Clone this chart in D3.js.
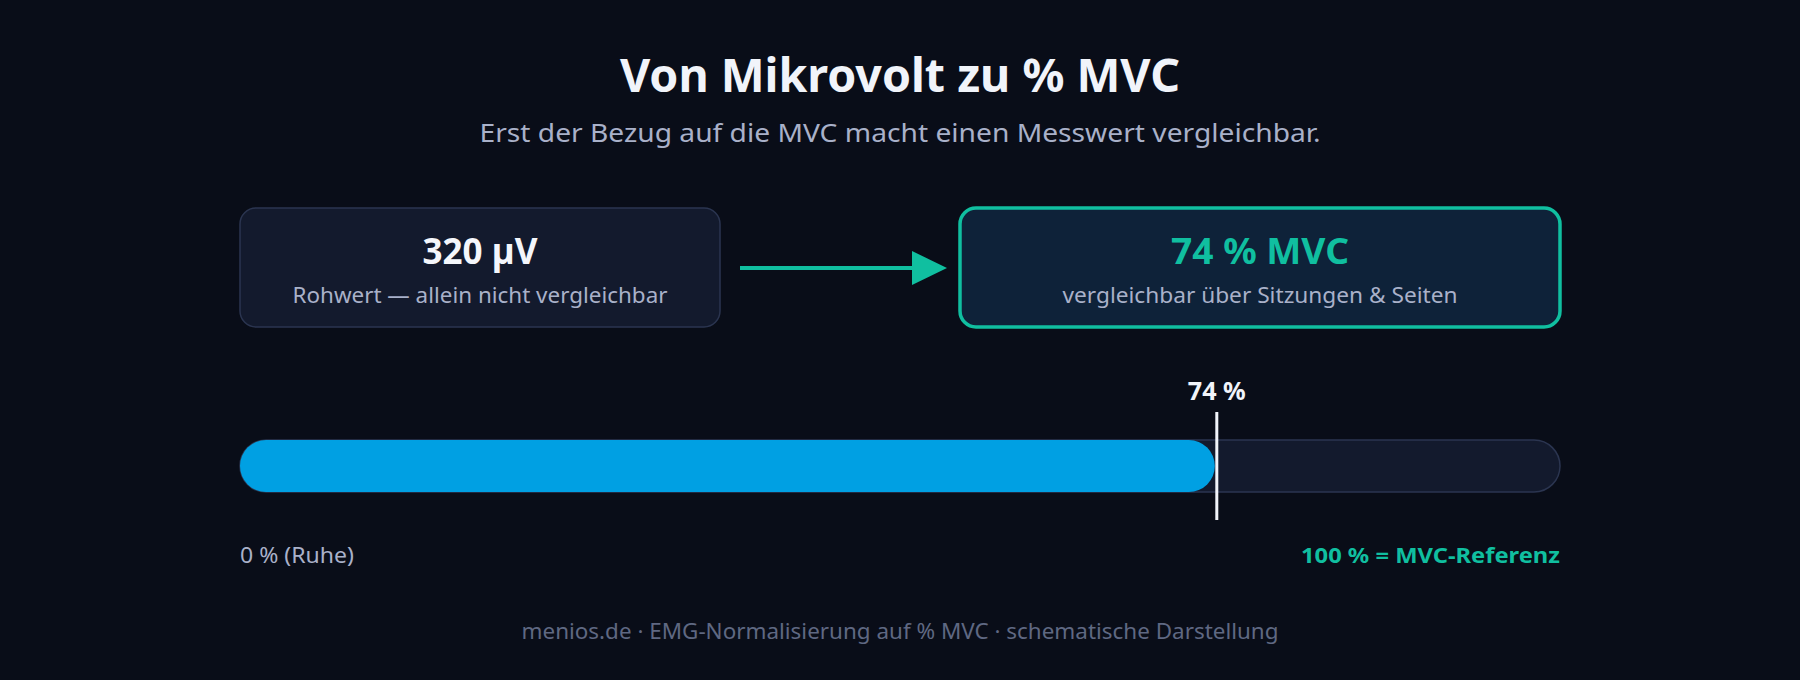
<!DOCTYPE html>
<html>
<head>
<meta charset="utf-8">
<script src="https://cdn.jsdelivr.net/npm/d3@7"></script>
<style>
  html, body { margin: 0; padding: 0; background: #090d18; }
  svg { display: block; font-family: "Segoe UI", "Noto Sans", sans-serif; }
</style>
</head>
<body>
<svg class="chart"></svg>
<script>
// values
var cardValues = ["320 µV", "74 % MVC"];
var cardNotes = ["Rohwert — allein nicht vergleichbar", "vergleichbar über Sitzungen & Seiten"];
var barDomain = [0, 100];
var barValues = [74];
var endLabels = ["0 % (Ruhe)", "100 % = MVC-Referenz"];

let w = 1800;
let h = 680;

var teal = "#10bfa0";
var blue = "#00a0e3";

var svg = d3.select(".chart")
            .attr("width", w)
            .attr("height", h);

svg.append("rect")
   .attr("width", w)
   .attr("height", h)
   .attr("fill", "#090d18");

// fit a label to the width it has in the picture
function fit(sel, len) {
  return sel.attr("textLength", len).attr("lengthAdjust", "spacingAndGlyphs");
}

fit(svg.append("text")
   .attr("x", w / 2)
   .attr("y", 92)
   .attr("text-anchor", "middle")
   .attr("font-size", "46px")
   .attr("font-weight", 700)
   .attr("fill", "#f1f4fa")
   .text("Von Mikrovolt zu % MVC"), 560);

fit(svg.append("text")
   .attr("x", w / 2)
   .attr("y", 142)
   .attr("text-anchor", "middle")
   .attr("font-size", "24.5px")
   .attr("fill", "#a9b1c9")
   .text("Erst der Bezug auf die MVC macht einen Messwert vergleichbar."), 841);

// two cards: raw value -> normalised value
var cards = [
  {x: 240, w: 480, fill: "#131a2d", stroke: "#2b3550", sw: 1.5, color: "#f4f6fb", vw: 115, nw: 375},
  {x: 960, w: 600, fill: "#0e2239", stroke: teal, sw: 3.5, color: teal, vw: 178, nw: 395}
];

var card = svg.selectAll("g.card")
   .data(cardValues)
   .enter().append("g")
   .attr("class", "card")
   .attr("transform", (d, i) => "translate(" + cards[i].x + ",208)");

card.append("rect")
    .attr("width", (d, i) => cards[i].w)
    .attr("height", 119)
    .attr("rx", 16)
    .attr("fill", (d, i) => cards[i].fill)
    .attr("stroke", (d, i) => cards[i].stroke)
    .attr("stroke-width", (d, i) => cards[i].sw);

card.append("text")
    .attr("x", (d, i) => cards[i].w / 2)
    .attr("y", 56)
    .attr("text-anchor", "middle")
    .attr("font-size", "35px")
    .attr("font-weight", 700)
    .attr("fill", (d, i) => cards[i].color)
    .attr("textLength", (d, i) => cards[i].vw)
    .attr("lengthAdjust", "spacingAndGlyphs")
    .text(d => d);

card.append("text")
    .attr("x", (d, i) => cards[i].w / 2)
    .attr("y", 95)
    .attr("text-anchor", "middle")
    .attr("font-size", "21.5px")
    .attr("fill", "#a9b1c9")
    .attr("textLength", (d, i) => cards[i].nw)
    .attr("lengthAdjust", "spacingAndGlyphs")
    .text((d, i) => cardNotes[i]);

// arrow
svg.append("line")
   .attr("x1", 740)
   .attr("x2", 914)
   .attr("y1", 268)
   .attr("y2", 268)
   .attr("stroke", teal)
   .attr("stroke-width", 4);

svg.append("path")
   .attr("d", "M912,251 L947,268 L912,285 Z")
   .attr("fill", teal);

// progress bar
var xS = d3.scaleLinear()
         .domain(barDomain)
         .range([240, 1560]);

var barY = 440, barH = 52;

svg.append("rect")
   .attr("x", xS(barDomain[0]))
   .attr("y", barY)
   .attr("width", xS(barDomain[1]) - xS(barDomain[0]))
   .attr("height", barH)
   .attr("rx", barH / 2)
   .attr("fill", "#131a2d")
   .attr("stroke", "#2b3550")
   .attr("stroke-width", 1.5);

svg.selectAll("rect.bar")
   .data(barValues)
   .enter().append("rect")
   .attr("class", "bar")
   .attr("x", xS(0))
   .attr("y", barY)
   .attr("width", d => xS(d) - xS(0) - 2)
   .attr("height", barH)
   .attr("rx", barH / 2)
   .attr("fill", blue);

svg.selectAll("line.marker")
   .data(barValues)
   .enter().append("line")
   .attr("class", "marker")
   .attr("x1", d => xS(d))
   .attr("x2", d => xS(d))
   .attr("y1", 412)
   .attr("y2", 520)
   .attr("stroke", "#f1f4fa")
   .attr("stroke-width", 3);

svg.selectAll("text.marker")
   .data(barValues)
   .enter().append("text")
   .attr("class", "marker")
   .attr("x", d => xS(d))
   .attr("y", 400)
   .attr("text-anchor", "middle")
   .attr("font-size", "25px")
   .attr("font-weight", 700)
   .attr("fill", "#f1f4fa")
   .attr("textLength", 58)
   .attr("lengthAdjust", "spacingAndGlyphs")
   .text(d => d + " %");

fit(svg.append("text")
   .attr("x", xS(barDomain[0]))
   .attr("y", 563)
   .attr("font-size", "21px")
   .attr("fill", "#a9b1c9")
   .text(endLabels[0]), 114);

fit(svg.append("text")
   .attr("x", xS(barDomain[1]))
   .attr("y", 563)
   .attr("text-anchor", "end")
   .attr("font-size", "21px")
   .attr("font-weight", 700)
   .attr("fill", teal)
   .text(endLabels[1]), 259);

fit(svg.append("text")
   .attr("x", w / 2)
   .attr("y", 639)
   .attr("text-anchor", "middle")
   .attr("font-size", "21px")
   .attr("fill", "#5f6882")
   .text("menios.de · EMG-Normalisierung auf % MVC · schematische Darstellung"), 757);
</script>
</body>
</html>
